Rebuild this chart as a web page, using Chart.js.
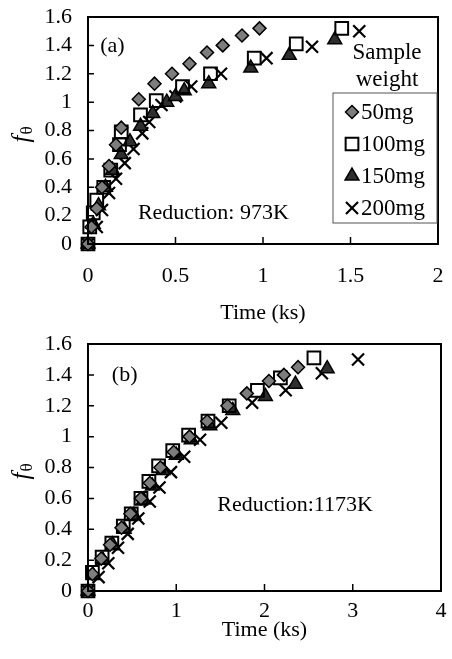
<!DOCTYPE html>
<html>
<head>
<meta charset="utf-8">
<script src="https://cdn.jsdelivr.net/npm/chart.js@4/dist/chart.umd.min.js"></script>
<style>
  html, body { margin: 0; padding: 0; background: #fff; }
  #wrap { position: relative; width: 452px; height: 659px; }
  .box { position: absolute; left: 0; width: 452px; }
  #boxA { top: 0; height: 330px; }
  #boxB { top: 330px; height: 329px; }
</style>
</head>
<body>
<div id="wrap">
  <div class="box" id="boxA"><canvas id="chartA"></canvas></div>
  <div class="box" id="boxB"><canvas id="chartB"></canvas></div>
</div>
<script>
// Sample weights (legend entries)
const sampleWeights = ['50mg', '100mg', '150mg', '200mg'];

// Reduction at 973 K: time (ks) and f_theta
const t973_50  = [0, 0.02, 0.05, 0.08, 0.12, 0.16, 0.19, 0.29, 0.38, 0.48, 0.58, 0.68, 0.77, 0.88, 0.98];
const f973_50  = [0, 0.12, 0.25, 0.40, 0.55, 0.70, 0.82, 1.02, 1.13, 1.20, 1.27, 1.35, 1.40, 1.47, 1.52];
const t973_100 = [0, 0.01, 0.03, 0.05, 0.09, 0.13, 0.18, 0.19, 0.30, 0.39, 0.54, 0.70, 0.95, 1.19, 1.45];
const f973_100 = [0, 0.12, 0.22, 0.31, 0.40, 0.52, 0.70, 0.79, 0.91, 1.01, 1.11, 1.20, 1.31, 1.41, 1.52];
const t973_150 = [0, 0.03, 0.06, 0.10, 0.14, 0.19, 0.24, 0.30, 0.37, 0.45, 0.50, 0.55, 0.69, 0.93, 1.15, 1.41];
const f973_150 = [0, 0.14, 0.27, 0.40, 0.52, 0.63, 0.72, 0.83, 0.92, 1.00, 1.04, 1.08, 1.13, 1.24, 1.33, 1.44];
const t973_200 = [0, 0.05, 0.08, 0.12, 0.16, 0.21, 0.26, 0.31, 0.35, 0.42, 0.50, 0.59, 0.76, 1.02, 1.28, 1.55];
const f973_200 = [0, 0.12, 0.24, 0.36, 0.46, 0.57, 0.67, 0.78, 0.86, 0.98, 1.04, 1.11, 1.20, 1.31, 1.39, 1.50];

// Reduction at 1173 K: time (ks) and f_theta
const t1173_50  = [0, 0.05, 0.15, 0.25, 0.38, 0.48, 0.60, 0.70, 0.82, 0.97, 1.15, 1.35, 1.58, 1.80, 2.05, 2.22, 2.38];
const f1173_50  = [0, 0.11, 0.21, 0.30, 0.41, 0.50, 0.60, 0.70, 0.80, 0.90, 1.00, 1.10, 1.20, 1.28, 1.36, 1.40, 1.45];
const t1173_100 = [0, 0.05, 0.16, 0.27, 0.40, 0.49, 0.60, 0.69, 0.80, 0.96, 1.14, 1.36, 1.60, 1.92, 2.18, 2.56];
const f1173_100 = [0, 0.12, 0.22, 0.31, 0.42, 0.50, 0.60, 0.71, 0.81, 0.91, 1.01, 1.10, 1.20, 1.30, 1.38, 1.51];
const t1173_150 = [0, 0.06, 0.17, 0.28, 0.41, 0.52, 0.63, 0.73, 0.85, 1.00, 1.17, 1.38, 1.64, 2.01, 2.35, 2.71];
const f1173_150 = [0, 0.10, 0.20, 0.30, 0.40, 0.49, 0.59, 0.68, 0.78, 0.88, 0.98, 1.07, 1.17, 1.26, 1.34, 1.44];
const t1173_200 = [0, 0.12, 0.23, 0.34, 0.45, 0.57, 0.70, 0.81, 0.94, 1.09, 1.27, 1.51, 1.86, 2.24, 2.65, 3.06];
const f1173_200 = [0, 0.09, 0.18, 0.28, 0.37, 0.47, 0.58, 0.67, 0.77, 0.87, 0.98, 1.09, 1.22, 1.30, 1.41, 1.50];

// Axis tick values
const yTicks = [0, 0.2, 0.4, 0.6, 0.8, 1, 1.2, 1.4, 1.6];
const xTicksA = [0, 0.5, 1, 1.5, 2];
const xTicksB = [0, 1, 2, 3, 4];

const FONT = "'Liberation Serif', 'Times New Roman', serif";
const FS = 22;

// Marker appearance per sample weight
const markerStyles = [
  { pointStyle: 'rectRot',  radius: 6.5, backgroundColor: '#7d7d7d', borderColor: '#000', borderWidth: 1.5 },
  { pointStyle: 'rect',     radius: 9,   backgroundColor: 'rgba(255,255,255,0)', borderColor: '#000', borderWidth: 2 },
  { pointStyle: 'triangle', radius: 8,   backgroundColor: '#2e2e2e', borderColor: '#000', borderWidth: 1.5 },
  { pointStyle: 'crossRot', radius: 8.5, backgroundColor: '#000', borderColor: '#000', borderWidth: 2.2 }
];

function zip(ts, fs) { return ts.map((t, i) => ({ x: t, y: fs[i] })); }

function makeDatasets(series) {
  return series.map((s, i) => ({
    label: sampleWeights[i],
    data: zip(s[0], s[1]),
    pointStyle: markerStyles[i].pointStyle,
    pointRadius: markerStyles[i].radius,
    pointBackgroundColor: markerStyles[i].backgroundColor,
    pointBorderColor: markerStyles[i].borderColor,
    pointBorderWidth: markerStyles[i].borderWidth,
    showLine: false,
    clip: false
  }));
}

function drawMarker(ctx, st, x, y) {
  ctx.save();
  ctx.fillStyle = st.backgroundColor;
  ctx.strokeStyle = st.borderColor;
  ctx.lineWidth = st.borderWidth;
  Chart.helpers.drawPoint(ctx, { pointStyle: st.pointStyle, radius: st.radius, rotation: 0, borderWidth: st.borderWidth }, x, y);
  ctx.restore();
}

const fmt = v => String(+Number(v).toFixed(1));

// Frame, inward tick marks, y-axis title, panel texts and legend
const decorPlugin = {
  id: 'decor',
  afterDraw(chart, args, opts) {
    const ctx = chart.ctx;
    const a = chart.chartArea;
    const xs = chart.scales.x, ys = chart.scales.y;
    ctx.save();
    ctx.strokeStyle = '#000';
    ctx.lineWidth = 2;
    ctx.strokeRect(a.left, a.top, a.right - a.left, a.bottom - a.top);
    ctx.lineWidth = 1.5;
    ctx.beginPath();
    yTicks.forEach(v => {
      const py = ys.getPixelForValue(v);
      ctx.moveTo(a.left, py); ctx.lineTo(a.left + 6, py);
    });
    opts.xTicks.forEach(v => {
      const px = xs.getPixelForValue(v);
      ctx.moveTo(px, a.bottom); ctx.lineTo(px, a.bottom - 7);
    });
    ctx.stroke();

    // y-axis title: italic f with subscript theta, rotated
    ctx.save();
    ctx.translate(a.left - 66, (a.top + a.bottom) / 2);
    ctx.rotate(-Math.PI / 2);
    ctx.fillStyle = '#000';
    ctx.textBaseline = 'middle';
    ctx.font = 'italic 25px ' + FONT;
    const fw = ctx.measureText('f').width;
    ctx.textAlign = 'left';
    ctx.fillText('f', -12, 0);
    ctx.font = '17px ' + FONT;
    ctx.fillText('θ', -12 + fw + 1, 6);
    ctx.restore();

    // panel texts
    ctx.fillStyle = '#000';
    ctx.font = FS + 'px ' + FONT;
    ctx.textAlign = 'left';
    ctx.textBaseline = 'middle';
    opts.texts.forEach(tx => {
      ctx.fillText(tx.text, xs.getPixelForValue(tx.x), ys.getPixelForValue(tx.y));
    });

    // legend
    if (opts.legend) {
      const L = opts.legend;
      const bx = a.right - L.w - 1, by = a.top + L.top;
      ctx.textAlign = 'center';
      ctx.font = '23px ' + FONT;
      ctx.fillText('Sample', bx + L.w / 2 + 2, by - 40);
      ctx.fillText('weight', bx + L.w / 2 + 2, by - 13);
      ctx.lineWidth = 1;
      ctx.strokeStyle = '#555';
      ctx.strokeRect(bx, by, L.w, L.h);
      ctx.textAlign = 'left';
      sampleWeights.forEach((name, i) => {
        const cy = by + 19 + i * 32;
        drawMarker(ctx, markerStyles[i], bx + 19, cy);
        ctx.fillStyle = '#000';
        ctx.fillText(name, bx + 28, cy + 1);
      });
    }
    ctx.restore();
  }
};

function makeChart(id, series, xMax, xTicks, layoutPad, xAxisH, tickPadX, titlePadB, decor) {
  return new Chart(document.getElementById(id), {
    type: 'scatter',
    data: { datasets: makeDatasets(series) },
    options: {
      responsive: true,
      maintainAspectRatio: false,
      animation: false,
      layout: { padding: layoutPad },
      plugins: { legend: { display: false }, tooltip: { enabled: false }, decor: Object.assign({ xTicks }, decor) },
      scales: {
        x: {
          type: 'linear', min: 0, max: xMax,
          afterBuildTicks: s => { s.ticks = xTicks.map(v => ({ value: v })); },
          afterFit: s => { s.height = xAxisH; s.paddingLeft = 0; s.paddingRight = 0; },
          grid: { display: true, drawOnChartArea: false, drawTicks: false },
          border: { display: true, color: '#000', width: 2 },
          ticks: { color: '#000', font: { family: FONT, size: FS }, padding: tickPadX, maxRotation: 0, autoSkip: false, callback: fmt },
          title: { display: true, text: 'Time (ks)', color: '#000', font: { family: FONT, size: FS }, padding: { top: 0, bottom: titlePadB } }
        },
        y: {
          type: 'linear', min: 0, max: 1.6,
          afterBuildTicks: s => { s.ticks = yTicks.map(v => ({ value: v })); },
          afterFit: s => { s.width = 88; s.paddingTop = 0; s.paddingBottom = 0; },
          grid: { display: true, drawOnChartArea: false, drawTicks: false },
          border: { display: true, color: '#000', width: 2 },
          ticks: { color: '#000', font: { family: FONT, size: FS }, padding: 16, autoSkip: false, callback: fmt }
        }
      }
    },
    plugins: [decorPlugin]
  });
}

makeChart('chartA',
  [[t973_50, f973_50], [t973_100, f973_100], [t973_150, f973_150], [t973_200, f973_200]],
  2, xTicksA, { top: 17, right: 14, left: 0, bottom: 0 }, 86, 19, 4,
  {
    texts: [{ text: '(a)', x: 0.07, y: 1.395 }, { text: 'Reduction: 973K', x: 0.285, y: 0.22 }],
    legend: { w: 104, h: 130, top: 76 }
  });

makeChart('chartB',
  [[t1173_50, f1173_50], [t1173_100, f1173_100], [t1173_150, f1173_150], [t1173_200, f1173_200]],
  4, xTicksB, { top: 14, right: 9, left: 0, bottom: 0 }, 68, 7, 16,
  {
    texts: [{ text: '(b)', x: 0.27, y: 1.40 }, { text: 'Reduction:1173K', x: 1.465, y: 0.557 }],
    legend: null
  });
</script>
</body>
</html>
